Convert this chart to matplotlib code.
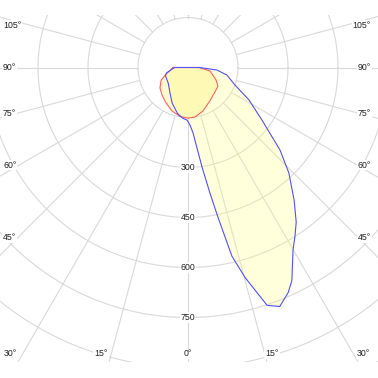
import numpy as np
import matplotlib.pyplot as plt
from matplotlib.patches import Rectangle

# polar intensity curves, angle from nadir (deg, + to the right), intensity (cd)
blue_angles = [-90, -76, -71, -51, -35, -24, -13, -6, -1, 2, 4.4, 8, 9.9, 11.3, 13.1, 15.2,
               18.4, 21, 24, 26, 29.9, 32.4, 35, 38.7, 43.7, 48.1, 54.6, 62, 69.6, 79, 85, 90]
blue_values = [40, 66, 72, 76, 94, 117, 141, 153, 158, 173, 197, 301, 382, 457, 581, 653,
               752, 768, 739, 711, 632, 599, 566, 509, 438, 371, 272, 207, 150, 119, 87, 35]

red_angles = [-90, -75, -65, -54, -43, -32, -20, -9, 0, 8, 19, 33, 48, 58, 66, 81, 90]
red_values = [45, 65, 89, 104, 114, 125, 139, 149, 152, 150, 138, 120, 109, 106, 92, 67, 33]

ring_values = [150, 300, 450, 600, 750, 900, 1050]
ring_labels = ["300", "450", "600", "750"]
spoke_angles = list(range(-180, 181, 15))

# angle labels: text, pixel x, pixel y, alignment
angle_labels = [("105°", 3, 25, "left"), ("90°", 3, 67, "left"), ("75°", 3, 113, "left"),
                ("60°", 3, 165, "left"), ("45°", 3, 238, "left"),
                ("105°", 371, 25, "right"), ("90°", 371, 67, "right"), ("75°", 371, 113, "right"),
                ("60°", 371, 165, "right"), ("45°", 371, 238, "right"),
                ("30°", 10, 354, "center"), ("15°", 101, 354, "center"), ("0°", 188, 354, "center"),
                ("15°", 272, 354, "center"), ("30°", 363, 354, "center")]

S = 3.0          # cd per pixel
CX, CY = 188, 67.5


def px(x, y):
    return (x - CX) * S, (CY - y) * S


def to_xy(angles, values):
    a = np.radians(angles)
    v = np.array(values, dtype=float)
    return v * np.sin(a), -v * np.cos(a)


fig = plt.figure(figsize=(3.78, 3.78), dpi=100)
ax = fig.add_axes([0, 0, 1, 1])
x0, y0 = px(0, 378)
x1, y1 = px(378, 0)
ax.set_xlim(x0, x1)
ax.set_ylim(y0, y1)
ax.axis("off")

bx0, by0 = px(0, 362)
bx1, by1 = px(378, 15)
clip = Rectangle((bx0, by0), bx1 - bx0, by1 - by0, transform=ax.transData,
                 fill=False, edgecolor="none")
ax.add_patch(clip)

grid_col = "#d9d9d9"
t = np.linspace(0, 2 * np.pi, 720)
for r in ring_values:
    ln, = ax.plot(r * np.cos(t), r * np.sin(t), color=grid_col, lw=0.8, zorder=1)
    ln.set_clip_path(clip)
for ang in spoke_angles:
    a = np.radians(ang)
    ln, = ax.plot([150 * np.sin(a), 2000 * np.sin(a)], [-150 * np.cos(a), -2000 * np.cos(a)],
                  color=grid_col, lw=0.8, zorder=1)
    ln.set_clip_path(clip)

bx, by = to_xy(blue_angles, blue_values)
rx, ry = to_xy(red_angles, red_values)
ax.fill(bx, by, color="#ffff80", alpha=0.27, lw=0, zorder=2)
ax.fill(rx, ry, color="#fff070", alpha=0.35, lw=0, zorder=3)
ax.plot(np.append(bx, bx[0]), np.append(by, by[0]), color="#5050ff", lw=0.8, zorder=5)
ax.plot(np.append(rx, rx[0]), np.append(ry, ry[0]), color="#ff6060", lw=0.8, zorder=4)

box = dict(facecolor="white", edgecolor="none", pad=0.6)
for lab in ring_labels:
    ax.text(0, -float(lab), lab, ha="center", va="center", fontsize=6.3,
            family="Liberation Sans", color="#222222", bbox=box, zorder=6)
for txt, lx, ly, ha in angle_labels:
    x, y = px(lx, ly)
    ax.text(x, y, txt, ha=ha, va="center", fontsize=6.3, family="Liberation Sans",
            color="#222222", bbox=box, zorder=6)

fig.savefig("out.png", dpi=100)
